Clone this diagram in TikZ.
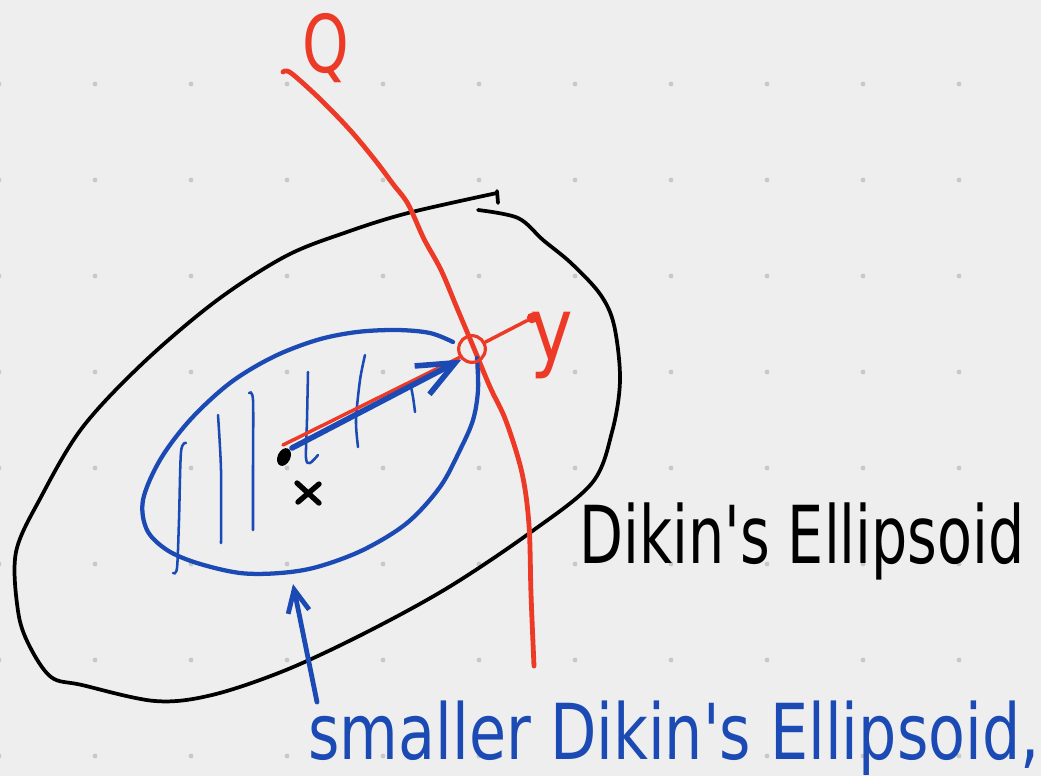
\documentclass[tikz,border=0pt]{standalone}
\usepackage{fontspec}
\newfontfamily\handfont{DejaVu Sans}
\usetikzlibrary{arrows.meta,shapes.geometric}

\definecolor{paper}{RGB}{238,238,238}
\definecolor{griddot}{RGB}{200,200,200}
\definecolor{inkred}{RGB}{236,58,38}
\definecolor{inkblue}{RGB}{27,74,180}

\tikzset{every picture/.style={line width=0.75pt}}
\tikzset{
  outerink/.style={draw=black, line width=2.8pt, line cap=round, line join=round},
  innerink/.style={draw=inkblue, line width=3.2pt, line cap=round, line join=round},
  redink/.style={draw=inkred, line width=3.6pt, line cap=round, line join=round},
  redthin/.style={draw=inkred, line width=2.6pt, line cap=round},
  hatchink/.style={draw=inkblue, line width=1.9pt, line cap=round},
  crossink/.style={draw=black, line width=4pt, line cap=round},
  bigarrow/.style={draw=inkblue, line width=4.2pt, line cap=round, -{Straight Barb[length=28pt,width=24pt]}},
  smallarrow/.style={draw=inkblue, line width=3.6pt, line cap=round, -{Straight Barb[length=17pt,width=16pt]}},
  hitcircle/.style={circle, draw=inkred, line width=2.4pt, minimum size=20pt, inner sep=0pt},
  reddot/.style={circle, fill=inkred, minimum size=8pt, inner sep=0pt},
  blackdot/.style={ellipse, fill=black, minimum width=9.5pt, minimum height=14pt, inner sep=0pt},
  handtext/.style={inner sep=0pt}
}

\begin{document}
\begin{tikzpicture}[x=0.75pt,y=0.75pt,yscale=-1,xscale=1]
\useasboundingbox (0,0) rectangle (1041,776);
\fill[paper] (0,0) rectangle (1041,776);
%Grid Dots
\foreach \gx in {-1,95,...,959}{
  \foreach \gy in {84,180,...,756}{
    \fill[griddot] (\gx,\gy) circle (1.8pt);
  }
}

%Curve Lines (outer ellipsoid)
\draw[outerink] plot[smooth, tension=0.55] coordinates {(478,210) (518,218) (543,240) (571,263) (600,294) (614,325) (620,380) (612,432) (592,483) (531,532) (449,587) (367,632) (286,670) (212,695) (155,701) (82,685) (51,677) (29,645) (18,611) (16,552) (41,497) (82,428) (143,363) (216,301) (286,256) (347,232) (408,213) (497,193)};
\draw[outerink] (497,191) -- (498,203);

%Curve Lines (Q)
\draw[redink] plot[smooth, tension=0.55] coordinates {(283,72) (291,73) (320,99) (350,130) (375,160) (393,184) (408,204) (424,239) (441,270) (457,308) (473,346) (490,387) (506,421) (522,473) (529,525) (531,594) (534,666)};

%Curve Lines (smaller ellipsoid)
\draw[innerink] plot[smooth, tension=0.55] coordinates {(453,342) (430,333) (397,330) (357,332) (317,340) (273,357) (230,383) (190,420) (160,460) (143,500) (147,530) (167,550) (197,563) (240,573) (280,573) (317,567) (363,550) (407,523) (440,487) (460,450) (473,420) (478,390) (477,358)};

%Hatching
\draw[hatchink] plot[smooth] coordinates {(186,443) (181,452) (179,520) (177,568) (173,573)};
\draw[hatchink] plot[smooth] coordinates {(218,415) (221,470) (221,543)};
\draw[hatchink] plot[smooth] coordinates {(249,393) (253,400) (253,470) (253,530)};
\draw[hatchink] plot[smooth] coordinates {(308,372) (307,420) (306,458) (310,463) (318,455)};
\draw[hatchink] plot[smooth] coordinates {(365,355) (360,380) (356,420) (358,447)};
\draw[hatchink] plot[smooth] coordinates {(410,382) (413,397) (415,412)};

%Points
\node[hitcircle] (hit) at (472,349) {};
\node[reddot] (ydot) at (532,318) {};
\node[blackdot, rotate=-25] (cdot) at (284,457) {};
\coordinate (rstart) at (283,445);
\coordinate (astart) at (292,448);
\coordinate (xmark) at (308,493);

%Straight Lines
\draw[redthin] (rstart) -- ([shift={(-2,-2)}]hit.south west);
\draw[bigarrow] (astart) -- (hit.south west);
\draw[redthin] (hit) -- (ydot);
\draw[crossink] ([shift={(-11,-10)}]xmark) -- ([shift={(11,10)}]xmark);
\draw[crossink] ([shift={(11,-9)}]xmark) -- ([shift={(-10,9)}]xmark);

% Text Node
\node[handtext, text=inkred] (qlabel) at (326,48) {\resizebox*{35pt}{52pt}{\handfont Q}};
% Text Node
\node[handtext, text=inkred] (ylabel) at (552,346) {\resizebox*{32pt}{50pt}{\handfont y}};
% Text Node
\node[handtext, text=black] (dikin) at (802,541) {\resizebox*{334pt}{58pt}{\handfont Dikin's Ellipsoid}};
% Text Node
\node[handtext, text=inkblue] (smaller) at (674,738) {\resizebox*{548pt}{56pt}{\handfont smaller Dikin's Ellipsoid,}};

%Arrow to the smaller ellipsoid
\coordinate (ptail) at (317,702);
\coordinate (ptip) at (293,584);
\draw[smallarrow] (ptail) -- (ptip);

\end{tikzpicture}
\end{document}
